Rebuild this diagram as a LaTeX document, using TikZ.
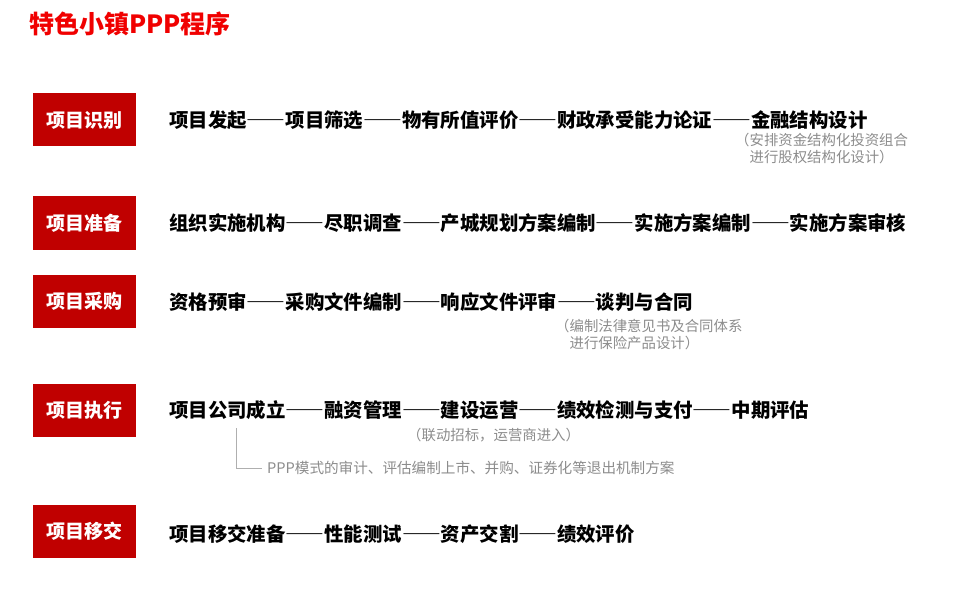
\documentclass[tikz,border=0pt]{standalone}
\usepackage{fontspec}
\setmainfont{Noto Sans CJK SC}
\newfontfamily\cjk{Noto Sans CJK SC}
\newfontfamily\cjkfull[CharacterWidth=Full]{Noto Sans CJK SC}
\usetikzlibrary{positioning}
\definecolor{stagered}{HTML}{C00000}
\definecolor{titlered}{HTML}{F00000}
\definecolor{notegray}{HTML}{8C8C8C}

\begin{document}
\begin{tikzpicture}[
    x=1pt, y=-1pt,
    stage/.style={rectangle, fill=stagered, text=white, minimum width=103pt, minimum height=53pt, inner sep=0pt, font=\cjk\bfseries\fontsize{19}{22}\selectfont},
    steps/.style={anchor=west, inner sep=0pt, font=\cjkfull\bfseries\fontsize{19.4}{23}\selectfont},
    note/.style={anchor=north west, inner sep=0pt, text=notegray, align=left, font=\cjkfull\fontsize{14.4}{17}\selectfont},
    line/.style={draw=notegray!70, line width=0.8pt}
]
\useasboundingbox (0,0) rectangle (967,599);

\node [anchor=west, inner sep=0pt, text=titlered, font=\cjk\bfseries\fontsize{25}{29}\selectfont] (title) at (29,24) {特色小镇PPP程序};

% stages
\node [stage] (identify) at (84,120) {项目识别};
\node [stage] (prepare) at (84,223) {项目准备};
\node [stage] (purchase) at (84,301) {项目采购};
\node [stage] (execute) at (84,410) {项目执行};
\node [stage] (transfer) at (84,531) {项目移交};

% steps of each stage
\node [steps] (identifysteps) at (169,120) {项目发起——项目筛选——物有所值评价——财政承受能力论证——金融结构设计};
\node [steps] (preparesteps) at (169,223) {组织实施机构——尽职调查——产城规划方案编制——实施方案编制——实施方案审核};
\node [steps] (purchasesteps) at (169,302) {资格预审——采购文件编制——响应文件评审——谈判与合同};
\node [steps] (executesteps) at (169,410) {项目公司成立——融资管理——建设运营——绩效检测与支付——中期评估};
\node [steps] (transfersteps) at (169,534) {项目移交准备——性能测试——资产交割——绩效评价};

% remarks
\node [note] (identifynote) at (735,133) {（安排资金结构化投资组合\\\hspace*{1em}进行股权结构化设计）};
\node [note] (purchasenote) at (555,319) {（编制法律意见书及合同体系\\\hspace*{1em}进行保险产品设计）};
\node [note] (executenote) at (407,428) {（联动招标，运营商进入）};
\node [note, anchor=west, font=\cjk\fontsize{14.6}{17}\selectfont] (exitnote) at (267,468) {PPP{\cjkfull 模式的审计、评估编制上市、并购、证券化等退出机制方案}};

\coordinate (branch) at (236,428);
\draw [line] (branch) |- ([xshift=-5pt]exitnote.west);

\end{tikzpicture}
\end{document}
